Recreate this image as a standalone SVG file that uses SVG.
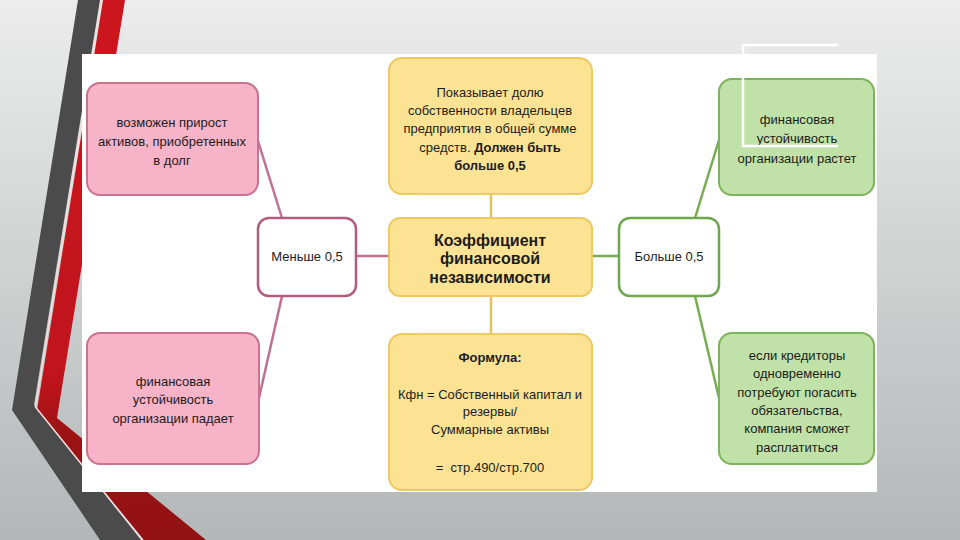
<svg xmlns="http://www.w3.org/2000/svg" width="960" height="540" viewBox="0 0 960 540">
  <defs>
    <linearGradient id="bg" x1="0" y1="0" x2="0" y2="1">
      <stop offset="0" stop-color="#ececec"/>
      <stop offset="1" stop-color="#b3b7b7"/>
    </linearGradient>
    <linearGradient id="redg" x1="0" y1="0" x2="0" y2="540" gradientUnits="userSpaceOnUse">
      <stop offset="0" stop-color="#cc161e"/>
      <stop offset="0.7" stop-color="#c0141c"/>
      <stop offset="0.8" stop-color="#9c1214"/>
      <stop offset="1" stop-color="#921214"/>
    </linearGradient>
    <style>
      .t { font-family: "Liberation Sans", Arial, sans-serif; font-size: 13px; fill: #1c1c1c; text-anchor: middle; }
      .b { font-weight: bold; }
      .big { font-size: 16px; font-weight: bold; }
      .pink { fill: #f7b3c8; stroke: #c9738f; stroke-width: 2; }
      .pinkw { fill: #ffffff; stroke: #b35c7e; stroke-width: 2.5; }
      .yel { fill: #fce394; stroke: #eec862; stroke-width: 2; }
      .grn { fill: #c0e2a8; stroke: #7db35a; stroke-width: 2; }
      .grnw { fill: #ffffff; stroke: #6fa84b; stroke-width: 2.5; }
      .cp { stroke: #c07090; stroke-width: 2.5; fill: none; }
      .cy { stroke: #e2c05c; stroke-width: 2.5; fill: none; }
      .cg { stroke: #76ad52; stroke-width: 2.5; fill: none; }
    </style>
  </defs>

  <rect x="0" y="0" width="960" height="540" fill="url(#bg)"/>

  <!-- decorative stripes -->
  <polygon points="78,0 100,0 34,405 141,540 100,540 12,410" fill="#4b4b4b"/>
  <polygon points="103,0 125,0 57,418 206,540 144,540 37,410" fill="url(#redg)"/>
  <polyline points="101.5,0 35.5,407 142.5,540" fill="none" stroke="#f2dede" stroke-width="1.5"/>

  <!-- panel -->
  <rect x="82" y="54" width="795" height="438" fill="#ffffff"/>

  <!-- connectors -->
  <g id="connectors">
    <line class="cp" x1="258" y1="141" x2="282" y2="218"/>
    <line class="cp" x1="282" y1="296" x2="259" y2="398"/>
    <line class="cp" x1="356" y1="256" x2="389" y2="256"/>
    <line class="cy" x1="491" y1="194" x2="491" y2="218"/>
    <line class="cy" x1="491" y1="296" x2="491" y2="334"/>
    <line class="cg" x1="591" y1="256" x2="619" y2="256"/>
    <line class="cg" x1="695" y1="218" x2="719" y2="140"/>
    <line class="cg" x1="695" y1="296" x2="719" y2="398"/>
  </g>

  <g id="n-left-top">
    <rect class="pink" x="87" y="83" width="171" height="112" rx="13"/>
    <text class="t" x="172" y="127">возможен прирост</text>
    <text class="t" x="172" y="146">активов, приобретенных</text>
    <text class="t" x="172" y="165">в долг</text>
  </g>

  <g id="n-less">
    <rect class="pinkw" x="258" y="218" width="98" height="78" rx="11"/>
    <text class="t" x="307" y="261">Меньше 0,5</text>
  </g>

  <g id="n-left-bottom">
    <rect class="pink" x="87" y="333" width="172" height="131" rx="13"/>
    <text class="t" x="173" y="386">финансовая</text>
    <text class="t" x="173" y="404">устойчивость</text>
    <text class="t" x="173" y="423">организации падает</text>
  </g>

  <g id="n-desc">
    <rect class="yel" x="389" y="58" width="203" height="136" rx="13"/>
    <text class="t" x="490" y="97">Показывает долю</text>
    <text class="t" x="490" y="115">собственности владельцев</text>
    <text class="t" x="490" y="133">предприятия в общей сумме</text>
    <text class="t" x="490" y="152">средств. <tspan class="b">Должен быть</tspan></text>
    <text class="t b" x="490" y="170">больше 0,5</text>
  </g>

  <g id="n-center">
    <rect class="yel" x="389" y="218" width="203" height="78" rx="11"/>
    <text class="t big" x="490" y="246">Коэффициент</text>
    <text class="t big" x="490" y="264">финансовой</text>
    <text class="t big" x="490" y="283">независимости</text>
  </g>

  <g id="n-formula">
    <rect class="yel" x="389" y="334" width="203" height="156" rx="13"/>
    <text class="t b" x="490" y="362">Формула:</text>
    <text class="t" x="490" y="399">Кфн = Собственный капитал и</text>
    <text class="t" x="490" y="416">резервы/</text>
    <text class="t" x="490" y="434">Суммарные активы</text>
    <text class="t" x="490" y="472" xml:space="preserve">=  стр.490/стр.700</text>
  </g>

  <g id="n-more">
    <rect class="grnw" x="619" y="218" width="100" height="78" rx="11"/>
    <text class="t" x="669" y="261">Больше 0,5</text>
  </g>

  <g id="n-right-top">
    <rect class="grn" x="719" y="79" width="155" height="116" rx="13"/>
    <text class="t" x="797" y="124">финансовая</text>
    <text class="t" x="797" y="143">устойчивость</text>
    <text class="t" x="797" y="163">организации растет</text>
  </g>

  <g id="n-right-bottom">
    <rect class="grn" x="719" y="333" width="155" height="131" rx="13"/>
    <text class="t" x="797" y="360">если кредиторы</text>
    <text class="t" x="797" y="378">одновременно</text>
    <text class="t" x="797" y="397">потребуют погасить</text>
    <text class="t" x="797" y="415">обязательства,</text>
    <text class="t" x="797" y="433">компания сможет</text>
    <text class="t" x="797" y="452">расплатиться</text>
  </g>

  <!-- white bracket decoration -->
  <polyline points="838,45 743,45 743,146 838,146" fill="none" stroke="#ffffff" stroke-width="2.5"/>
</svg>
